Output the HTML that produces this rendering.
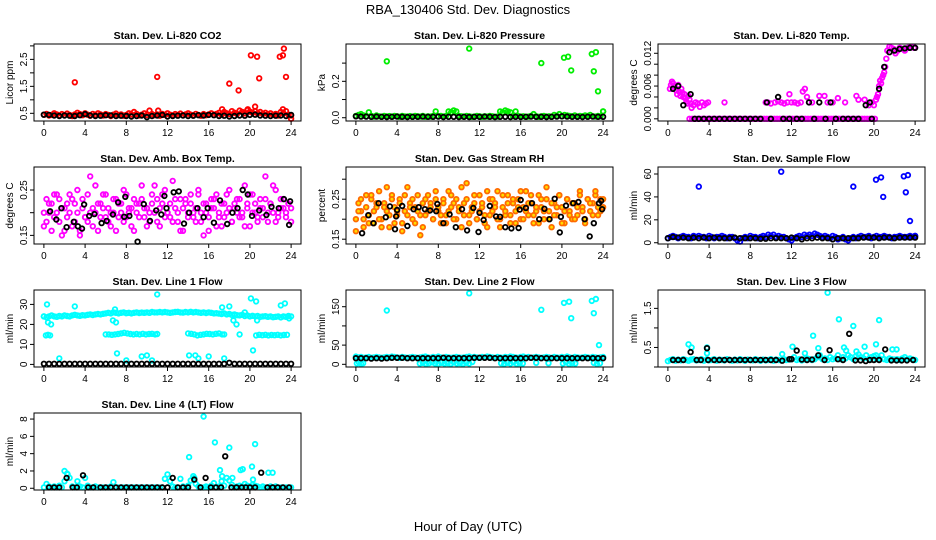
<!DOCTYPE html>
<html><head><meta charset="utf-8"><title>RBA_130406 Std. Dev. Diagnostics</title>
<style>
html,body{margin:0;padding:0;background:#fff;}
svg{display:block;font-family:"Liberation Sans",Arial,sans-serif;}
</style></head>
<body>
<svg id="chart" width="936" height="540" viewBox="0 0 936 540" xmlns="http://www.w3.org/2000/svg">
<text x="468" y="14" font-size="13" text-anchor="middle">RBA_130406  Std. Dev. Diagnostics</text>
<text x="468" y="531" font-size="13" text-anchor="middle">Hour of Day (UTC)</text>
</svg>
<script>
// ---------- data ----------
const co2Band=[.45,.48,.42,.44,.5,.46,.41,.47,.43,.49,.44,.4,.46,.52,.47,.43,.5,.45,.41,.48,.44,.5,.46,.42,.47,.44,.4,.45,.49,.43,.46,.41,.44,.5,.46,.55,.48,.42,.45,.5,.44,.6,.47,.43,.46,.41,.48,.44,.5,.45,.42,.47,.44,.49,.43,.46,.5,.45,.42,.48,.44,.41,.47,.43,.46,.5,.44,.48,.52,.45,.55,.5,.47,.58,.52,.48,.6,.55,.5,.62,.56,.52,.58,.5,.55,.48,.52,.46,.5,.44,.48,.42,.55,.5,.58,.45,.42];
const co2OutH=[3,11,18,18.9,20.1,20.7,20.9,22.9,23.2,23.3,23.5,17.3,20.5,23.2,24,11.1,19.8];
const co2OutV=[1.65,1.85,1.6,1.35,2.65,2.6,1.8,2.6,2.65,2.9,1.85,.65,.75,.65,.3,.6,.65];
const co2Black=[.45,.44,.42,.4,.42,.41,.4,.43,.47,.42,.4,.41,.43,.42,.4,.41,.4,.38,.4,.42,.36,.4,.42,.44,.38,.4,.41,.42,.4,.41,.43,.42,.44,.43,.4,.41,.38,.4,.42,.41,.44,.45,.42,.41,.4,.41,.42,.4,.44];

const presBand=[.01,.015,.02,.012,.008,.03,.01,.006,.012,.008,.005,.01,.007,.009,.006,.01,.008,.005,.01,.007,.006,.009,.005,.01,.008,.006,.01,.005,.008,.006,.01,.035,.008,.01,.006,.01,.035,.03,.04,.035,.01,.008,.006,.01,.008,.005,.006,.01,.008,.005,.008,.006,.01,.008,.005,.006,.035,.03,.04,.035,.03,.008,.035,.01,.006,.008,.005,.006,.01,.02,.008,.005,.008,.01,.006,.008,.005,.015,.01,.02,.008,.015,.012,.01,.008,.012,.006,.01,.008,.012,.01,.015,.008,.006,.01,.008,.035];
const presOutH=[3,11,18,20.2,20.6,20.9,22.9,23.1,23.3,23.5,24];
const presOutV=[.31,.38,.3,.33,.335,.26,.35,.255,.36,.145,.035];
const presBlack=[.008,.006,.006,.005,.006,.005,.004,.005,.006,.005,.004,.005,.005,.006,.005,.005,.006,.004,.005,.005,.004,.005,.004,.005,.005,.006,.005,.004,.005,.005,.004,.005,.004,.005,.006,.005,.005,.004,.005,.006,.008,.006,.005,.005,.004,.005,.006,.005,.005];

const tempH=[0.2,0.3,0.4,0.5,0.6,0.7,0.8,0.9,1.0,1.1,1.2,1.3,1.4,1.5,1.6,1.7,1.8,1.9,2.0,2.1,2.2,2.3,2.5,2.7,2.9,3.1,3.3,3.5,3.7,3.9,5.5,9.5,9.7,10.0,10.4,10.7,11.0,11.3,11.6,11.8,12.0,12.3,12.6,12.9,13.1,13.3,13.5,13.7,14.0,14.7,15.2,15.5,16.0,16.5,17.2,18.3,18.5,19.1,19.5,19.8,20.0,20.2,20.3,20.4,20.5,20.6,20.7,20.8,20.9,21.0,21.1,21.2,21.3,21.5,21.7,21.9,22.1,22.3,22.5,22.8,23.0,23.3,23.6,23.9,24.0];
const tempV=[.0055,.0062,.0068,.0065,.006,.0058,.0052,.0045,.0062,.005,.0042,.0055,.0048,.004,.0045,.0038,.0032,.0028,.0042,.0035,.0028,.002,.0025,.003,.0028,.0022,.003,.0025,.0028,.003,.003,.003,.003,.0028,.003,.0032,.003,.0028,.003,.0045,.003,.003,.0028,.003,.005,.0055,.004,.003,.003,.0042,.0042,.003,.003,.0038,.003,.0042,.0035,.0035,.0025,.003,.0025,.0035,.004,.0045,.006,.007,.0065,.0075,.008,.0085,.0095,.011,.0125,.0132,.013,.0128,.012,.0125,.013,.0128,.0125,.013,.0132,.013,.013];
const tempZeroH=[2.1,20.3];
const tempBlackH=[0.5,1.0,1.5,2.2,2.6,3.0,3.5,4.0,4.5,5.0,5.5,6.0,6.5,7.0,7.5,8.0,8.5,9.0,9.6,10.0,10.7,11.2,11.8,12.5,13.0,13.7,14.2,14.7,15.3,15.8,16.3,17.0,17.5,18.0,18.5,19.2,19.6,19.8,20.5,21.0,21.5,22.0,22.5,23.0,23.5,24.0];
const tempBlackV=[.0055,.006,.0025,.0045,0,0,0,0,0,0,0,0,0,0,0,0,0,0,.003,0,.004,0,0,0,0,.003,0,.003,0,.003,0,0,0,0,0,.0025,.003,0,.0055,.0095,.0122,.0125,.0128,.0129,.013,.013];

const ambA=[.17,.23,.2,.22,.19,.24,.18,.21,.16,.22,.2,.23,.18,.25,.16,.21,.19,.24,.2,.17,.26,.22,.19,.21,.24,.18,.2,.23,.16,.22,.2,.25,.19,.21,.17,.23,.2,.22,.26,.19,.21,.18,.24,.2,.23,.17,.22,.25,.2,.19,.27,.21,.18,.23,.16,.22,.2,.24,.19,.21,.25,.18,.22,.2,.16,.23,.21,.24,.19,.17,.22,.2,.25,.18,.21,.23,.19,.2,.26,.22,.17,.24,.2,.19,.23,.21,.28,.18,.22,.2,.25,.19,.21,.23,.2,.22,.18];
const ambB=[.2,.18,.22,.16,.24,.2,.23,.15,.21,.19,.24,.17,.22,.2,.15,.23,.19,.18,.28,.21,.2,.16,.22,.24,.19,.21,.17,.2,.23,.19,.22,.18,.24,.2,.21,.16,.22,.19,.23,.21,.17,.2,.22,.26,.18,.21,.24,.19,.2,.22,.18,.23,.2,.16,.21,.23,.19,.22,.2,.18,.24,.2,.15,.22,.19,.21,.23,.17,.2,.22,.19,.24,.21,.18,.22,.2,.23,.19,.17,.21,.24,.2,.22,.18,.21,.19,.23,.2,.22,.26,.18,.2,.23,.21,.19,.22,.21];
const ambBlackH=[0.6,1.2,1.7,2.2,2.9,3.3,3.7,3.9,4.4,4.9,5.6,6.1,6.7,7.2,7.8,7.9,8.3,9.1,9.7,10.3,10.9,11.4,11.7,11.9,12.6,13.1,13.6,14.1,14.9,15.5,15.9,16.5,17.1,17.8,18.3,18.8,19.3,19.8,20.2,20.9,21.6,22.1,22.8,23.3,23.8,23.9];
const ambBlackV=[.203,.185,.21,.168,.18,.17,.165,.218,.193,.197,.177,.182,.196,.223,.191,.235,.193,.136,.219,.182,.205,.196,.237,.21,.245,.247,.176,.2,.21,.19,.21,.178,.227,.175,.2,.21,.25,.24,.193,.205,.195,.213,.21,.23,.173,.225];

const rhA=[.2,.24,.22,.18,.26,.21,.25,.19,.23,.27,.2,.24,.22,.18,.26,.23,.21,.25,.19,.22,.28,.24,.2,.23,.26,.21,.18,.25,.22,.24,.2,.27,.23,.21,.25,.19,.22,.26,.24,.2,.23,.28,.21,.25,.19,.22,.24,.2,.26,.23,.21,.18,.25,.22,.24,.27,.2,.23,.21,.26,.19,.24,.22,.25,.2,.23,.27,.21,.24,.19,.22,.26,.23,.2,.25,.22,.18,.24,.21,.26,.23,.19,.25,.22,.2,.24,.21,.27,.23,.2,.25,.22,.24,.26,.21,.25,.23];
const rhB=[.17,.22,.25,.2,.23,.19,.26,.22,.24,.2,.18,.23,.28,.21,.25,.19,.22,.24,.17,.26,.21,.23,.25,.19,.22,.16,.24,.21,.26,.23,.2,.25,.22,.19,.24,.21,.27,.23,.2,.25,.22,.18,.24,.29,.21,.23,.26,.2,.22,.24,.19,.27,.21,.25,.23,.2,.18,.26,.22,.24,.21,.25,.19,.23,.27,.2,.22,.24,.26,.21,.23,.19,.25,.22,.28,.2,.24,.21,.23,.26,.19,.22,.25,.21,.24,.2,.23,.26,.22,.19,.25,.24,.21,.27,.23,.22,.25];
const rhBlackH=[0.6,1.2,1.7,2.2,2.9,3.3,3.8,3.9,4.0,4.5,5.0,5.6,6.1,6.7,7.2,7.8,7.9,8.5,9.1,9.7,10.3,10.8,11.4,11.9,12.0,12.4,13.0,13.6,14.0,14.5,15.1,15.8,15.9,16.0,16.5,17.1,17.8,18.3,18.8,19.3,19.8,19.9,20.4,21.1,21.6,22.2,22.7,23.1,23.6,23.8,23.9];
const rhBlackV=[.165,.21,.19,.24,.205,.232,.175,.207,.223,.233,.183,.225,.23,.225,.222,.22,.238,.19,.212,.18,.225,.172,.228,.168,.216,.198,.233,.207,.206,.18,.177,.178,.224,.248,.228,.24,.2,.226,.2,.251,.167,.206,.234,.24,.243,.2,.157,.19,.24,.246,.225];

const sampBand=[4,5,6,5,4,5,6,5,5,4,6,5,6,5,5,4,6,5,4,5,5,6,5,4,5,5,4,2,1,4,5,4,6,5,5,4,5,6,5,7,6,7,5,6,5,5,4,3,2,4,5,6,5,7,6,7,6,8,7,6,5,6,5,4,6,5,3,4,5,3,2,4,5,4,5,6,5,5,6,4,5,6,5,5,6,5,5,4,5,5,6,5,5,5,6,5,6];
const sampOutH=[3,11,18,20.2,20.7,20.9,22.9,23.1,23.3,23.5,24];
const sampOutV=[49,62,49,55,57,40,58,44,59,19,6];
const sampBlack=[4,5,4.5,4.5,4,4.5,4,4.5,4,4.5,4,4,4,4.5,4,4,4,4,3.5,3.5,4,4,4,4,4.5,4,3,4,4,4.5,4,4,3,4,4,4,4,4,4.5,4.5,4.5,4,4.5,4.5,4,4.5,4.5,4.5,4.5];

const l1Band=[24,23.5,24,24.5,24,23.8,24.2,24,24.5,24.2,24,24.5,24.8,24.5,24.3,24.6,24.5,24.8,25,24.7,25,25.2,25,25.3,25.5,25.8,25.5,26,25.8,25.5,25.8,26,25.6,25.8,25.5,25.8,26,25.7,25.9,25.8,26,25.8,26.2,26,26,26.2,26,26.2,26,25.8,26,26.2,26.3,26,25.9,26.2,26,26.3,26,26.2,26,25.8,26,25.7,26,25.8,25.5,25.6,25.4,25.2,25.5,25,25.2,24.8,25,24.6,24.5,24.8,24.2,24.5,24,24.3,24,24.2,23.8,24,24.1,23.8,24,23.6,23.8,24,23.5,24,23.8,24.2,24];
const l1LowH=[0.2,0.4,0.6,6.0,6.3,6.6,6.9,7.2,7.5,7.8,8.1,8.4,8.7,9.0,9.3,9.6,9.9,10.2,10.5,10.8,11.0,14.0,14.3,14.6,14.9,15.2,15.5,15.8,16.1,16.4,16.7,17.0,17.3,17.5,20.6,20.9,21.2,21.5,21.8,22.1,22.4,22.7,23.0,23.3,23.6];
const l1LowV=[14.5,14.8,14.5,15,15,14.8,15,15.2,15.5,15.8,15.5,15.2,15,15.2,15,15.3,15,15.2,15.3,15,15.2,15.5,15.3,15,14.5,14.8,15,15.3,15.2,15,15.3,15.5,15,15,14.5,14.8,14.6,14.8,14.5,14.7,14.6,14.8,14.5,14.7,14.8];
const l1OutH=[0.3,0,0.4,0.7,3,6.7,6.9,7,7.1,11,17.3,18,18.4,18.7,19,19.5,20.1,20.3,20.6,20.7,23,23.4,23.8,1.5,8,9.5,10,14.1,14.7,15,16,17.5,10.5];
const l1OutV=[30,24,21,20,29,22,27.5,21,5.5,35,28.5,29,22,20,15,26,33,7,31.5,22,29.5,30.5,23,3,2,4,4.5,4.5,4.5,3,4,3,2];
const l1Black=[.3,.3,.3,.3,.3,.3,.3,.3,.3,.3,.3,.3,.3,.3,.3,.3,.3,.3,.3,.3,.3,.3,.3,.3,.3,.3,.3,.3,.3,.3,.3,.3,.3,.3,.3,.3,.8,.3,.3,.3,.3,.3,.3,.3,.3,.3,.3,.3,.3];

const l2Band=[20,18,19,17,18,19,17,18,19,18,17,18,19,18,20,19,18,17,19,18,17,18,19,18,17,18,19,20,18,17,19,18,20,18,17,19,18,17,18,19,18,17,18,19,20,18,19,18,17,19,18,20,19,18,17,19,18,17,19,18,20,19,18,17,19,20,18,19,17,18,19,18,17,18,19,18,17,19,18,17,19,18,20,18,17,19,18,17,18,19,18,17,19,18,17,18,19];
const l2ZeroH=[0.1,0.3,0.5,0.7,6.2,6.5,6.8,7.1,7.4,7.7,8.0,8.3,8.6,8.9,9.2,9.5,9.8,10.1,10.4,10.7,11.0,11.3,14.1,14.4,14.7,15.0,15.3,15.6,15.9,16.2,17.5,18.7,20.1,20.4,20.7,21.0,21.3,23.1,23.4,23.7];
const l2ZeroV=[2,5,1,3,2,4,1,3,5,2,1,4,2,3,1,5,2,3,1,4,2,6,3,1,4,2,5,1,3,2,4,3,2,5,1,3,2,4,1,3];
const l2OutH=[3,11,18,20.2,20.7,20.9,22.9,23.1,23.3,23.6];
const l2OutV=[140,185,142,160,163,120,165,133,170,50];
const l2Black=[16,16,16,15,16,15,16,17,17,17,16,16,16,16,16,16,16,17,16,16,16,16,16,17,17,17,17,16,16,16,16,16,16,16,17,17,16,16,16,16,16,16,16,16,16,16,16,16,16];

const l3Band=[.15,.18,.2,.16,.19,.17,.2,.18,.16,.19,.2,.17,.18,.2,.16,.19,.17,.18,.2,.16,.19,.18,.17,.2,.18,.16,.19,.17,.2,.18,.16,.19,.18,.17,.2,.18,.16,.19,.17,.18,.2,.16,.19,.18,.17,.2,.18,.19,.2,.25,.18,.2,.17,.19,.22,.2,.18,.2,.25,.3,.2,.22,.18,.25,.2,.22,.3,.2,.25,.22,.3,.25,.2,.28,.32,.25,.22,.3,.2,.25,.28,.2,.22,.3,.2,.18,.22,.2,.19,.2,.18,.22,.25,.2,.22,.19,.18];
const l3OutH=[2,2.3,3.8,3.8,11.1,12.1,13.3,14.1,14.6,15.5,16.6,17.1,17.3,18,18.3,19.1,20.2,20.5,20.2,21.8,22.2];
const l3OutV=[.58,.5,.5,.35,.33,.52,.35,.8,.48,1.9,1.22,.5,.42,1.05,.4,.52,.58,1.2,.3,.45,.45];
const l3BlackH=[0.5,1,1.5,2.2,2.8,3.2,3.8,3.9,4.5,5,5.5,6,6.5,7,7.5,8,8.5,9,9.5,10,10.5,11.1,11.8,12,12.5,13,13.5,14,14.6,15.2,15.7,16.5,17,17.6,18.2,18.7,19.2,19.6,20,20.5,21.1,21.7,22.2,22.7,23.2,23.8];
const l3BlackV=[.18,.18,.18,.38,.18,.18,.48,.18,.18,.18,.18,.18,.18,.18,.18,.18,.18,.18,.18,.18,.18,.16,.2,.2,.42,.19,.18,.19,.3,.18,.43,.2,.18,.85,.17,.17,.15,.18,.18,.18,.45,.17,.17,.17,.17,.18];

const l4Band=[.1,.5,.2,.1,.2,.1,.3,.1,.8,1.7,1.2,.2,.1,.8,.2,.1,1.2,.3,.1,.1,.2,.1,.1,.1,.1,.1,.2,.7,.1,.1,.1,.1,.1,.1,.1,.1,.1,.1,.1,.1,.1,.1,.1,.1,.1,.1,.1,1.1,1.6,.8,.2,.1,.1,1.1,.2,.1,.3,.9,1.4,.5,.2,.1,.1,.2,.1,.3,.6,.1,.2,.8,.3,1.2,.9,.4,.1,.2,.3,.2,.5,.3,.2,.4,.3,.2,.1,.2,.1,.1,.2,.1,.2,.1,.1,.1,.1,.1,.1];
const l4OutH=[14.1,15.5,16.6,17.1,17.3,18,18.3,19.1,19.3,20.2,20.5,20.3,21.8,22.2,2,2.3,14.6];
const l4OutV=[3.6,8.3,5.3,2.1,1.4,4.7,1.2,2.1,2.2,2.5,5.1,1,1.8,1.8,2,1.6,1.2];
const l4BlackH=[0.5,1,1.5,2.2,2.8,3.2,3.8,4.3,4.8,5.5,6,6.5,7,7.5,8,8.5,9,9.5,10,10.5,11,11.5,12,12.5,13,13.5,14,14.6,15.2,15.7,16.2,16.7,17.2,17.6,18.2,18.7,19.2,19.6,20,20.5,21.1,21.7,22.2,22.7,23.2,23.8];
const l4BlackV=[.1,.1,.1,1.2,.1,.1,1.5,.1,.1,.1,.1,.1,.1,.1,.1,.1,.1,.1,.1,.1,.1,.1,.1,1.2,.1,.1,.1,1.0,.1,1.2,.1,.1,.1,3.7,.1,.1,.1,.1,.1,.1,1.8,.1,.1,.1,.1,.1];

const xTicks=[0,4,8,12,16,20,24];

// ---------- drawing ----------
const svg=document.getElementById('chart');
const NS='http://www.w3.org/2000/svg';
function mk(tag,attrs,parent){const e=document.createElementNS(NS,tag);for(const k in attrs)e.setAttribute(k,attrs[k]);(parent||svg).appendChild(e);return e;}
const colX=[34,346,658], rowY=[44,167,290,413], PW=267, PH=77;
const X0=-0.96,X1=24.96;

function panel(o){
  const L=colX[o.c],T=rowY[o.r],B=T+PH,R=L+PW;
  const g=mk('g',{});
  
  
  const sx=h=>L+(h-X0)/(X1-X0)*PW;
  const sy=v=>B-(v-o.y0)/(o.y1-o.y0)*PH;
  const t=mk('text',{x:(L+R)/2,y:T-5,'font-size':10.5,'font-weight':'bold','text-anchor':'middle'},g);
  t.textContent=o.title;
  
  
  const yl=mk('text',{transform:`translate(${L-21},${(T+B)/2}) rotate(-90)`,'font-size':10,'text-anchor':'middle'},g);
  yl.textContent=o.ylab;
  
  
  const pts=mk('g',{},g);
  
  
  function dot(h,v,col,fill){
    const c=mk('circle',{cx:sx(h).toFixed(1),cy:sy(v).toFixed(1),r:2.3,fill:fill||'none',stroke:col,'stroke-width':1.8},pts);
    
    
  }
  o.series.forEach(s=>{
    if(s.vals&&!s.hrs){const n=s.vals.length;s.vals.forEach((v,i)=>dot(i*24/(n-1),v,s.col,s.fill));}
    else s.hrs.forEach((h,i)=>dot(h,s.vals?s.vals[i]:s.v,s.col,s.fill));
  });
  const fr=mk('rect',{x:L,y:T,width:PW,height:PH,fill:'none',stroke:'#000','stroke-width':1},g);
  
  
  const xa=mk('g',{},g);
  
  
  mk('line',{x1:sx(0),x2:sx(24),y1:B,y2:B,stroke:'#000'},xa);
  xTicks.forEach(h=>{
    mk('line',{x1:sx(h),x2:sx(h),y1:B,y2:B+4,stroke:'#000'},xa);
    const tl=mk('text',{x:sx(h),y:B+15,'font-size':10,'text-anchor':'middle'},xa);
    tl.textContent=h;
  });
  const ya=mk('g',{},g);
  
  
  mk('line',{x1:L,x2:L,y1:sy(o.ticks[0]),y2:sy(o.ticks[o.ticks.length-1]),stroke:'#000'},ya);
  o.ticks.forEach(v=>{mk('line',{x1:L-4,x2:L,y1:sy(v),y2:sy(v),stroke:'#000'},ya);});
  o.labels.forEach((lab,i)=>{
    const v=o.labelVals[i];
    const tl=mk('text',{transform:`translate(${L-7},${sy(v)}) rotate(-90)`,'font-size':10,'text-anchor':'middle'},ya);
    tl.textContent=lab;
  });
}
const K='#000';
panel({name:'co2',c:0,r:0,title:'Stan. Dev. Li-820 CO2',ylab:'Licor ppm',y0:0.215,y1:3.07,ticks:[.5,1,1.5,2,2.5,3],labels:['0.5','1.5','2.5'],labelVals:[.5,1.5,2.5],
 series:[{vals:co2Band,col:'#ff0000'},{hrs:co2OutH,vals:co2OutV,col:'#ff0000'},{vals:co2Black,col:K}]});
panel({name:'pressure',c:1,r:0,title:'Stan. Dev. Li-820 Pressure',ylab:'kPa',y0:-0.018,y1:0.405,ticks:[0,.1,.2,.3],labels:['0.0','0.2'],labelVals:[0,.2],
 series:[{vals:presBand,col:'#00ee00'},{hrs:presOutH,vals:presOutV,col:'#00ee00'},{vals:presBlack,col:K}]});
const tempZeroHours=[];for(let h=tempZeroH[0];h<=tempZeroH[1];h+=0.25)tempZeroHours.push(h);
panel({name:'li820-temp',c:2,r:0,title:'Stan. Dev. Li-820 Temp.',ylab:'degrees C',y0:-0.0004,y1:0.0137,ticks:[0,.002,.004,.006,.008,.01,.012],labels:['0.000','0.006','0.012'],labelVals:[0,.006,.012],
 series:[{hrs:tempH,vals:tempV,col:'#ff00ff'},{hrs:tempZeroHours,v:0,col:'#ff00ff'},{hrs:tempBlackH,vals:tempBlackV,col:K}]});
panel({name:'amb-box-temp',c:0,r:1,title:'Stan. Dev. Amb. Box Temp.',ylab:'degrees C',y0:0.131,y1:0.3007,ticks:[.15,.2,.25],labels:['0.15','0.25'],labelVals:[.15,.25],
 series:[{vals:ambA,col:'#ff00ff'},{vals:ambB,col:'#ff00ff'},{hrs:ambBlackH,vals:ambBlackV,col:K}]});
panel({name:'gas-stream-rh',c:1,r:1,title:'Stan. Dev. Gas Stream RH',ylab:'percent',y0:0.138,y1:0.3305,ticks:[.15,.2,.25,.3],labels:['0.15','0.25'],labelVals:[.15,.25],
 series:[{vals:rhA,col:'#ff6a00',fill:'#ffdd00'},{vals:rhB,col:'#ff6a00',fill:'#ffdd00'},{hrs:rhBlackH,vals:rhBlackV,col:K}]});
panel({name:'sample-flow',c:2,r:1,title:'Stan. Dev. Sample Flow',ylab:'ml/min',y0:-1.1,y1:66.1,ticks:[0,20,40,60],labels:['0','20','40','60'],labelVals:[0,20,40,60],
 series:[{vals:sampBand,col:'#0000ff'},{hrs:sampOutH,vals:sampOutV,col:'#0000ff'},{vals:sampBlack,col:K}]});
panel({name:'line1-flow',c:0,r:2,title:'Stan. Dev. Line 1 Flow',ylab:'ml/min',y0:-1.3,y1:37.2,ticks:[0,10,20,30],labels:['0','10','20','30'],labelVals:[0,10,20,30],
 series:[{vals:l1Band,col:'#00ffff'},{hrs:l1LowH,vals:l1LowV,col:'#00ffff'},{hrs:l1OutH,vals:l1OutV,col:'#00ffff'},{vals:l1Black,col:K}]});
panel({name:'line2-flow',c:1,r:2,title:'Stan. Dev. Line 2 Flow',ylab:'ml/min',y0:-7,y1:193.5,ticks:[0,50,100,150],labels:['0','50','150'],labelVals:[0,50,150],
 series:[{vals:l2Band,col:'#00ffff'},{hrs:l2ZeroH,vals:l2ZeroV,col:'#00ffff'},{hrs:l2OutH,vals:l2OutV,col:'#00ffff'},{vals:l2Black,col:K}]});
panel({name:'line3-flow',c:2,r:2,title:'Stan. Dev. Line 3 Flow',ylab:'ml/min',y0:0,y1:1.97,ticks:[0,.5,1,1.5],labels:['0.5','1.5'],labelVals:[.5,1.5],
 series:[{vals:l3Band,col:'#00ffff'},{hrs:l3OutH,vals:l3OutV,col:'#00ffff'},{hrs:l3BlackH,vals:l3BlackV,col:K}]});
panel({name:'line4-flow',c:0,r:3,title:'Stan. Dev. Line 4 (LT) Flow',ylab:'ml/min',y0:-0.2,y1:8.7,ticks:[0,2,4,6,8],labels:['0','2','4','6','8'],labelVals:[0,2,4,6,8],
 series:[{vals:l4Band,col:'#00ffff'},{hrs:l4OutH,vals:l4OutV,col:'#00ffff'},{hrs:l4BlackH,vals:l4BlackV,col:K}]});
</script>
</body></html>
